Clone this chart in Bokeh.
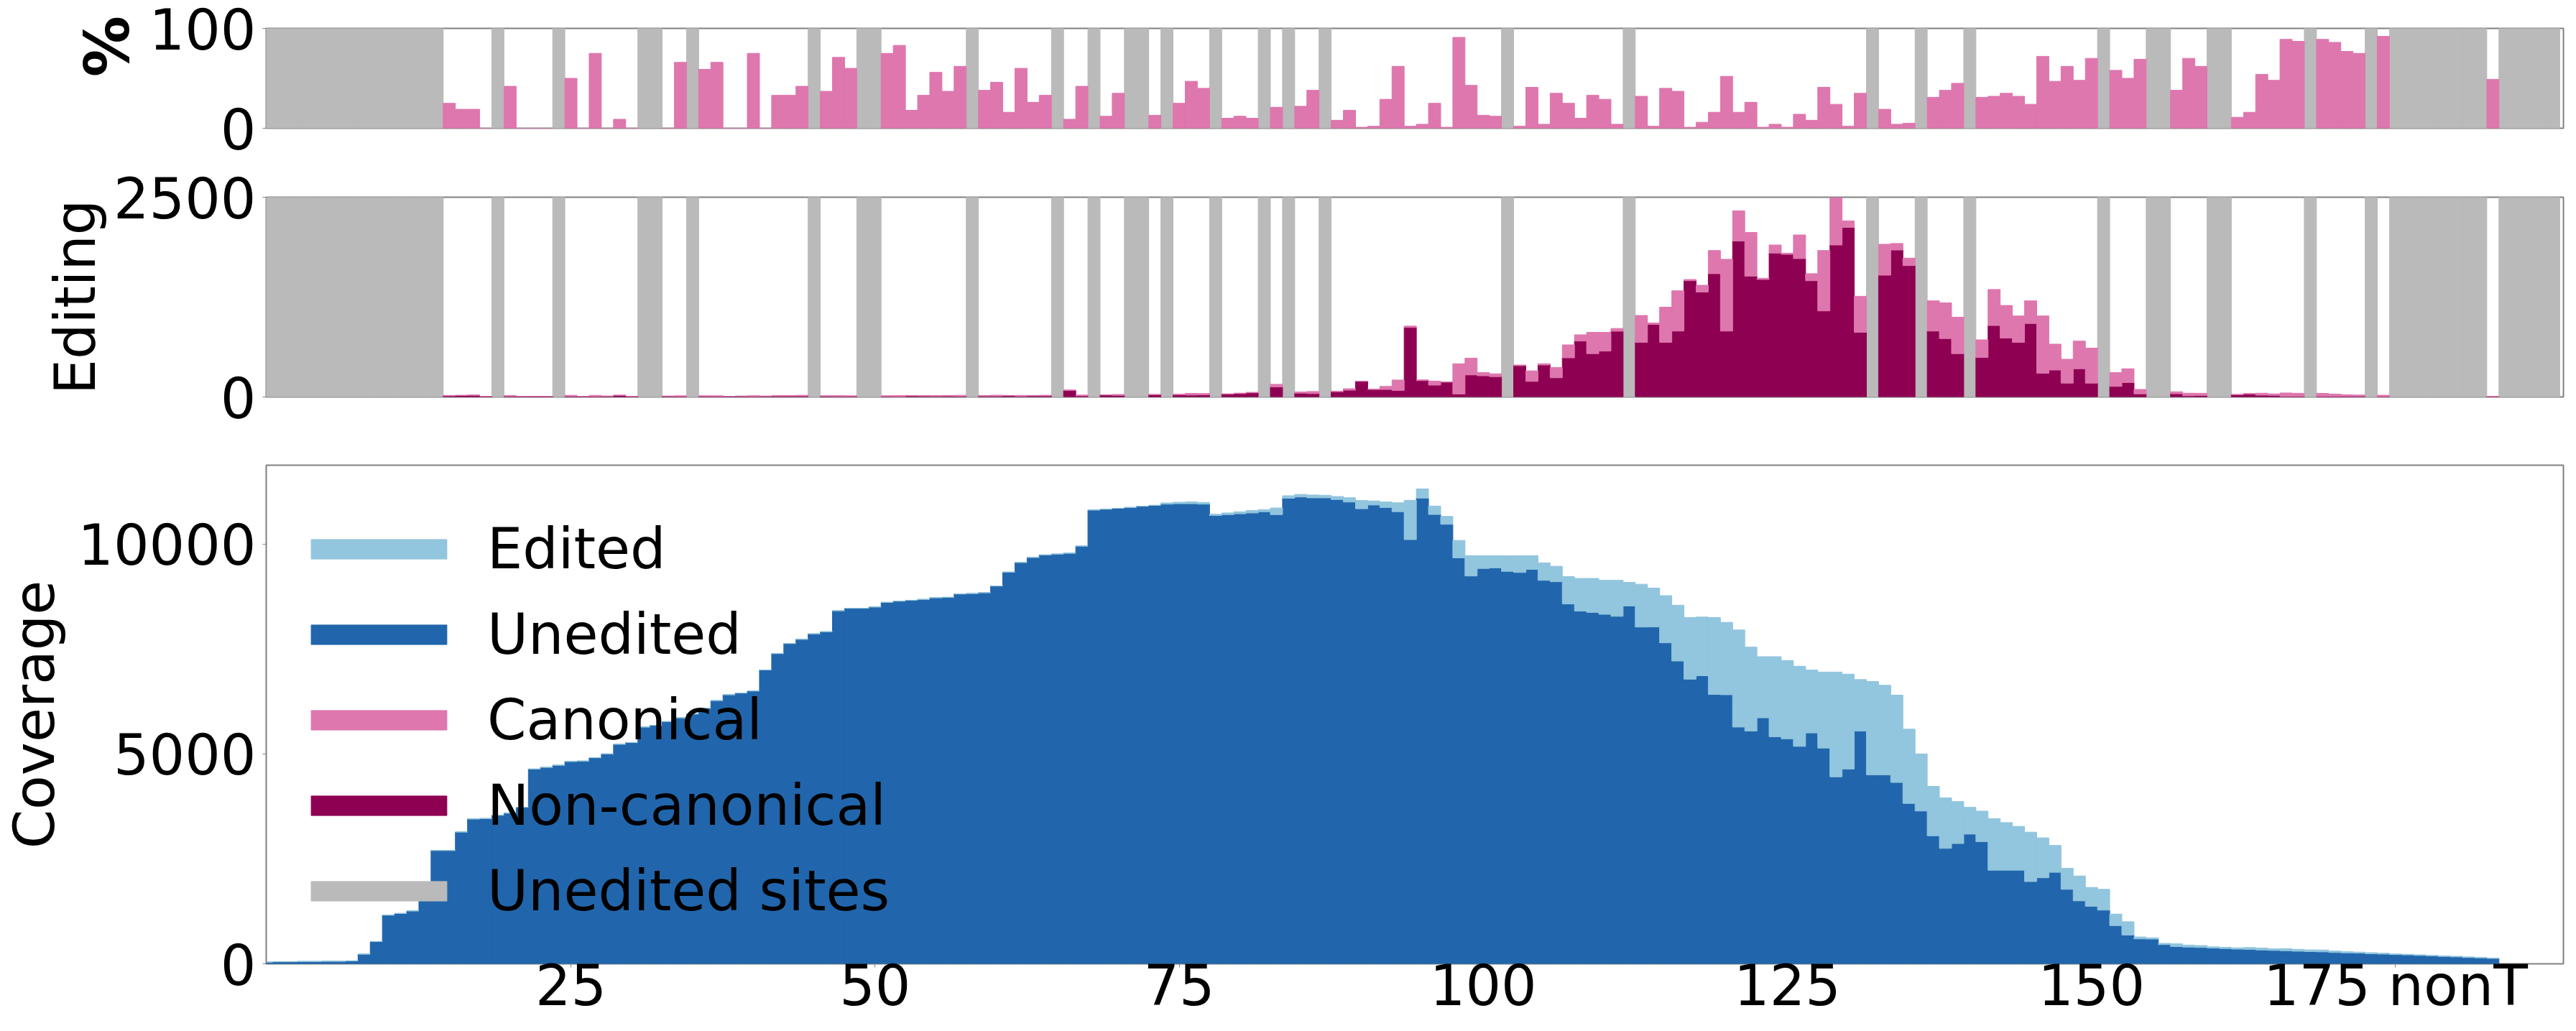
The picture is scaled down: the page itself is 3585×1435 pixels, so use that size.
from bokeh.plotting import figure
from bokeh.layouts import column
from bokeh.models import Range1d, FixedTicker, Legend, LegendItem, ColumnDataSource
from bokeh.embed import file_html
from bokeh.resources import INLINE

# ---------------- data ----------------
unedited_sites = [0, 1, 2, 3, 4, 5, 6, 7, 8, 9, 10, 11, 12, 13, 14, 19, 24, 31, 32, 35,
                  45, 49, 50, 58, 65, 68, 71, 72, 74, 78, 82, 84, 87, 102, 112, 132, 136, 140,
                  151, 155, 156, 160, 161, 168, 173, 175, 176, 177, 178, 179, 180, 181, 182,
                  184, 185, 186, 187, 188]

site_pos = [15, 16, 17, 18, 20, 21, 22, 23, 25, 26,
            27, 28, 29, 30, 33, 34, 36, 37, 38, 39,
            40, 41, 42, 43, 44, 46, 47, 48, 51, 52,
            53, 54, 55, 56, 57, 59, 60, 61, 62, 63,
            64, 66, 67, 69, 70, 73, 75, 76, 77, 79,
            80, 81, 83, 85, 86, 88, 89, 90, 91, 92,
            93, 94, 95, 96, 97, 98, 99, 100, 101, 103,
            104, 105, 106, 107, 108, 109, 110, 111, 113, 114,
            115, 116, 117, 118, 119, 120, 121, 122, 123, 124,
            125, 126, 127, 128, 129, 130, 131, 133, 134, 135,
            137, 138, 139, 141, 142, 143, 144, 145, 146, 147,
            148, 149, 150, 152, 153, 154, 157, 158, 159, 162,
            163, 164, 165, 166, 167, 169, 170, 171, 172, 174,
            183]

pct_canonical = [25, 19, 19, 0, 42, 0, 0, 0, 50, 0,
                 75, 0, 9, 0, 0, 66, 59, 66, 0, 0,
                 75, 0, 33, 33, 42, 37, 71, 60, 75, 83,
                 18, 33, 56, 37, 62, 38, 46, 16, 60, 26,
                 33, 9, 42, 12, 35, 13, 25, 47, 40, 10,
                 12, 10, 21, 22, 38, 8, 18, 1, 2, 29,
                 62, 2, 4, 25, 1, 91, 43, 13, 12, 2,
                 41, 4, 35, 25, 10, 33, 29, 4, 32, 2,
                 40, 37, 1, 6, 16, 52, 16, 26, 1, 4,
                 1, 14, 8, 41, 24, 2, 35, 19, 4, 5,
                 31, 38, 45, 31, 32, 35, 32, 24, 72, 47,
                 62, 48, 70, 58, 50, 69, 38, 70, 62, 11,
                 16, 54, 48, 89, 87, 89, 86, 77, 75, 92,
                 49]

noncanonical = [14, 18, 20, 8, 10, 8, 8, 8, 10, 8,
                5, 10, 20, 8, 10, 5, 6, 5, 8, 10,
                4, 10, 12, 12, 12, 10, 5, 6, 4, 3,
                14, 12, 8, 12, 8, 12, 12, 16, 8, 14,
                14, 80, 14, 24, 20, 28, 26, 24, 26, 36,
                42, 52, 125, 48, 42, 66, 85, 195, 94, 94,
                82, 870, 205, 148, 186, 37, 276, 265, 255, 392,
                195, 400, 240, 490, 700, 542, 574, 823, 683, 908,
                683, 825, 1455, 1313, 1543, 825, 1952, 1512, 1471, 1801,
                1785, 1732, 1455, 1077, 1902, 2122, 809, 1524, 1839, 1644,
                825, 731, 542, 494, 894, 737, 683, 920, 296, 337,
                173, 353, 173, 132, 180, 38, 40, 15, 18, 28,
                37, 22, 20, 5, 6, 5, 5, 6, 6, 2,
                3]

canonical = [5, 4, 5, 0, 7, 0, 0, 0, 10, 0,
             15, 0, 2, 0, 0, 10, 9, 10, 0, 0,
             12, 0, 6, 6, 9, 6, 12, 9, 12, 15,
             3, 6, 10, 7, 13, 7, 10, 3, 12, 5,
             7, 8, 10, 3, 11, 4, 9, 21, 17, 4,
             6, 6, 33, 14, 26, 6, 18, 2, 2, 38,
             130, 17, 9, 50, 2, 379, 209, 40, 35, 8,
             132, 16, 128, 162, 78, 267, 235, 34, 337, 18,
             441, 504, 15, 85, 290, 898, 378, 547, 15, 101,
             15, 296, 88, 756, 592, 82, 451, 387, 82, 94,
             378, 447, 456, 221, 451, 409, 331, 283, 718, 324,
             299, 346, 438, 173, 173, 56, 25, 32, 28, 4,
             7, 25, 18, 45, 40, 40, 30, 22, 18, 20,
             3]

cov_pos = list(range(0, 184))
cov_unedited = [40, 50, 50, 55, 55, 60, 60, 70, 230, 530,
                1160, 1200, 1260, 1570, 2700, 2700, 3140, 3450, 3460, 3540,
                3590, 3730, 4640, 4680, 4730, 4820, 4830, 4910, 5000, 5230,
                5270, 5640, 5680, 5770, 5860, 5950, 6090, 6270, 6410, 6450,
                6500, 7000, 7390, 7630, 7730, 7860, 7910, 8410, 8470, 8470,
                8500, 8610, 8640, 8660, 8680, 8720, 8730, 8810, 8820, 8840,
                9000, 9330, 9560, 9680, 9740, 9760, 9780, 9950, 10810, 10830,
                10850, 10870, 10900, 10920, 10950, 10960, 10960, 10950, 10680, 10700,
                10720, 10740, 10770, 10700, 11090, 11120, 11100, 11100, 11060, 11000,
                10840, 10930, 10870, 10770, 10105, 11093, 10704, 10470, 9670, 9238,
                9418, 9433, 9350, 9323, 9396, 9134, 9102, 8572, 8402, 8371,
                8326, 8278, 8524, 8022, 8025, 7646, 7213, 6780, 6862, 6417,
                6410, 5640, 5545, 5860, 5410, 5360, 5180, 5500, 5140, 4455,
                4640, 5545, 4500, 4500, 4320, 3820, 3640, 3050, 2750, 2865,
                3090, 2910, 2230, 2230, 2230, 1960, 2050, 2180, 1775, 1500,
                1370, 1280, 910, 685, 594, 590, 458, 412, 400, 390,
                375, 365, 350, 345, 330, 320, 312, 300, 292, 285,
                270, 262, 255, 240, 232, 220, 212, 200, 188, 175,
                165, 150, 140, 128]
cov_edited = [0, 0, 0, 0, 0, 0, 0, 0, 0, 0,
              0, 0, 0, 0, 0, 0, 0, 0, 0, 0,
              0, 0, 0, 0, 0, 0, 0, 0, 0, 0,
              0, 0, 0, 0, 0, 0, 0, 0, 0, 0,
              0, 0, 0, 0, 0, 0, 0, 0, 0, 0,
              0, 0, 0, 0, 0, 0, 0, 0, 0, 0,
              0, 0, 0, 0, 0, 0, 0, 0, 0, 0,
              0, 0, 0, 0, 30, 35, 45, 40, 30, 40,
              48, 58, 50, 158, 60, 62, 68, 60, 72, 103,
              197, 96, 132, 212, 936, 220, 200, 189, 416, 485,
              305, 290, 370, 400, 327, 416, 368, 652, 778, 809,
              809, 857, 564, 1020, 926, 1124, 1329, 1470, 1398, 1833,
              1724, 2312, 1998, 1456, 1906, 1865, 1909, 1498, 1810, 2495,
              2260, 1226, 2226, 2135, 2080, 1770, 1360, 1178, 1205, 1000,
              638, 727, 1226, 1135, 1044, 1177, 951, 640, 500, 593,
              450, 495, 275, 318, 46, 30, 30, 65, 47, 46,
              30, 30, 32, 44, 47, 38, 50, 46, 40, 45,
              35, 28, 24, 25, 22, 15, 15, 15, 15, 15,
              15, 15, 15, 6]

x_ticks = [25, 50, 75, 100, 125, 150, 175]
x_tick_labels = {25: "25", 50: "50", 75: "75", 100: "100", 125: "125", 150: "150",
                 175: "175 nonT"}

legend_names = ["Edited", "Unedited", "Canonical", "Non-canonical", "Unedited sites"]

# ---------------- style ----------------
FONT = "DejaVu Sans"
FS = "78px"
C_GRAY = "#bababa"
C_CAN = "#de77ae"
C_NONCAN = "#8e0152"
C_EDIT = "#92c5de"
C_UNEDIT = "#2166ac"
FRAME_COLOR = "#808080"

PCT_MAX = 100
EDIT_MAX = 2500
COV_MAX = 11877

W = 3569
x_range = Range1d(-0.05, 188.8)


def make_fig(ymax, height, top, bottom, yticks, ylabel, label_standoff,
             bold=False, label_size=FS):
    p = figure(width=W, height=height, x_range=x_range,
               y_range=Range1d(0, ymax), output_backend="svg", toolbar_location=None,
               min_border_left=367, min_border_right=2, min_border_top=top,
               min_border_bottom=bottom)
    p.grid.visible = False
    p.outline_line_color = FRAME_COLOR
    p.outline_line_width = 2
    p.background_fill_color = "white"
    p.border_fill_color = "white"
    ax = p.yaxis[0]
    ax.ticker = FixedTicker(ticks=yticks)
    ax.axis_line_color = None
    ax.major_tick_out = 5
    ax.major_tick_in = 0
    ax.major_tick_line_color = FRAME_COLOR
    ax.minor_tick_line_color = None
    ax.major_label_standoff = 9
    ax.major_label_text_font = FONT
    ax.major_label_text_font_size = FS
    ax.major_label_text_color = "black"
    ax.axis_label = ylabel
    ax.axis_label_standoff = label_standoff
    ax.axis_label_text_font = FONT
    ax.axis_label_text_font_size = label_size
    ax.axis_label_text_color = "black"
    ax.axis_label_text_font_style = "bold" if bold else "normal"
    return p


# ---- top panel: % canonical ----
p1 = make_fig(PCT_MAX, 39 + 139 + 48, 39, 48, [0, 100],
              "\u00a0\u00a0\u00a0%", 6, bold=True, label_size="85px")
p1.xaxis.visible = False
p1.vbar(x=unedited_sites, top=PCT_MAX, width=1, color=C_GRAY)
p1.vbar(x=site_pos, top=pct_canonical, width=1, color=C_CAN)

# ---- middle panel: editing counts ----
p2 = make_fig(EDIT_MAX, 48 + 278 + 47, 48, 47, [0, 2500], "Editing", 5)
p2.xaxis.visible = False
src2 = ColumnDataSource(dict(pos=site_pos, noncanonical=noncanonical, canonical=canonical))
p2.vbar(x=unedited_sites, top=EDIT_MAX, width=1, color=C_GRAY)
p2.vbar_stack(["noncanonical", "canonical"], x="pos", width=1,
              color=[C_NONCAN, C_CAN], source=src2)

# ---- bottom panel: coverage ----
p3 = make_fig(COV_MAX, 48 + 696 + 76, 48, 76, [0, 5000, 10000], "Coverage", 12)
src3 = ColumnDataSource(dict(pos=cov_pos, unedited=cov_unedited, edited=cov_edited))
r_unedit, r_edit = p3.vbar_stack(["unedited", "edited"], x="pos", width=1,
                                 color=[C_UNEDIT, C_EDIT], source=src3)
xa = p3.xaxis[0]
xa.ticker = FixedTicker(ticks=x_ticks)
xa.major_label_overrides = x_tick_labels
xa.axis_line_color = None
xa.major_tick_out = 5
xa.major_tick_in = 0
xa.major_tick_line_color = FRAME_COLOR
xa.minor_tick_line_color = None
xa.major_label_standoff = -20
xa.major_label_text_font = FONT
xa.major_label_text_font_size = FS
xa.major_label_text_color = "black"

# legend swatches for the series drawn in the upper panels (not visible in this panel)
nan = float("nan")
r_can = p3.vbar(x=[nan], top=[nan], width=1, color=C_CAN)
r_noncan = p3.vbar(x=[nan], top=[nan], width=1, color=C_NONCAN)
r_gray = p3.vbar(x=[nan], top=[nan], width=1, color=C_GRAY)

items = [LegendItem(label=n, renderers=[r]) for n, r in
         zip(legend_names, [r_edit, r_unedit, r_can, r_noncan, r_gray])]
legend = Legend(items=items, location=(39, 56), margin=0, padding=0,
                glyph_width=236, glyph_height=34, label_standoff=33, label_height=91,
                spacing=28, label_text_font=FONT, label_text_font_size=FS,
                label_text_color="black", label_text_baseline="middle",
                background_fill_alpha=0, border_line_color=None)
p3.add_layout(legend)

layout = column(p1, p2, p3, spacing=0)
open("out.html", "w").write(file_html(layout, INLINE))
